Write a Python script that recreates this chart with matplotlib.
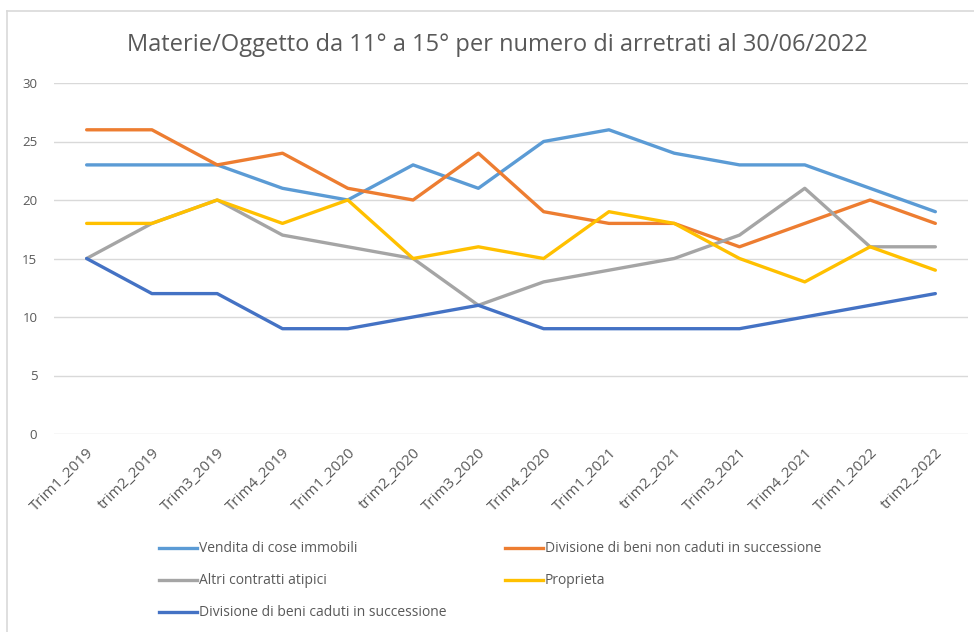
import matplotlib
matplotlib.use("Agg")
import matplotlib.pyplot as plt
from matplotlib.lines import Line2D

categories = ["Trim1_2019", "trim2_2019", "Trim3_2019", "Trim4_2019", "Trim1_2020",
              "trim2_2020", "Trim3_2020", "Trim4_2020", "Trim1_2021", "trim2_2021",
              "Trim3_2021", "Trim4_2021", "Trim1_2022", "trim2_2022"]

vendita = [23, 23, 23, 21, 20, 23, 21, 25, 26, 24, 23, 23, 21, 19]
divisione_non_caduti = [26, 26, 23, 24, 21, 20, 24, 19, 18, 18, 16, 18, 20, 18]
altri = [15, 18, 20, 17, 16, 15, 11, 13, 14, 15, 17, 21, 16, 16]
proprieta = [18, 18, 20, 18, 20, 15, 16, 15, 19, 18, 15, 13, 16, 14]
divisione_caduti = [15, 12, 12, 9, 9, 10, 11, 9, 9, 9, 9, 10, 11, 12]

series = [
    ("Vendita di cose immobili", vendita, "#5B9BD5"),
    ("Divisione di beni non caduti in successione", divisione_non_caduti, "#ED7D31"),
    ("Altri contratti atipici", altri, "#A5A5A5"),
    ("Proprieta", proprieta, "#FFC000"),
    ("Divisione di beni caduti in successione", divisione_caduti, "#4472C4"),
]

plt.rcParams['font.family'] = ['Open Sans', 'DejaVu Sans']

fig = plt.figure(figsize=(9.74, 6.32), dpi=100)
ax = fig.add_axes([54 / 974, 1 - 434 / 632, (968 - 54) / 974, (434 - 83) / 632])

x = list(range(len(categories)))
for name, vals, col in series:
    ax.plot(x, vals, color=col, lw=2.4, solid_joinstyle='round', solid_capstyle='round', label=name)

ax.set_xlim(-0.5, len(categories) - 0.5)
ax.set_ylim(0, 30)
ax.set_yticks(range(0, 31, 5))
ax.grid(axis='y', color='#D9D9D9', lw=1)
ax.set_axisbelow(True)
for s in ax.spines.values():
    s.set_visible(False)
ax.tick_params(axis='both', length=0, colors='#595959')
ax.tick_params(axis='y', pad=12, labelsize=9.5)
ax.set_xticks(x)
ax.set_xticklabels(categories, rotation=45, ha='right', rotation_mode='anchor')
ax.tick_params(axis='x', pad=8, labelsize=11)

fig.text(497 / 974, 1 - 45 / 632, "Materie/Oggetto da 11° a 15° per numero di arretrati al 30/06/2022",
         ha='center', va='center', fontsize=17, color='#595959')

# legend
labels = [n for n, _, _ in series]
leg_pos = [(159, 548), (505, 548), (159, 580), (505, 580), (159, 612)]
for (px, py), (lab, _, c) in zip(leg_pos, series):
    fig.add_artist(Line2D([px / 974, (px + 38) / 974], [1 - py / 632, 1 - py / 632],
                          color=c, lw=2.4, transform=fig.transFigure))
    fig.text((px + 40) / 974, 1 - py / 632, lab, ha='left', va='center', fontsize=10, color='#595959')

# chart border (partial, as in reference crop)
fig.add_artist(Line2D([7 / 974, 7 / 974], [0, 1 - 11 / 632], color='#D9D9D9', lw=1.2, transform=fig.transFigure))
fig.add_artist(Line2D([7 / 974, 1], [1 - 11 / 632, 1 - 11 / 632], color='#D9D9D9', lw=1.2, transform=fig.transFigure))

fig.savefig("out.png", dpi=100)
